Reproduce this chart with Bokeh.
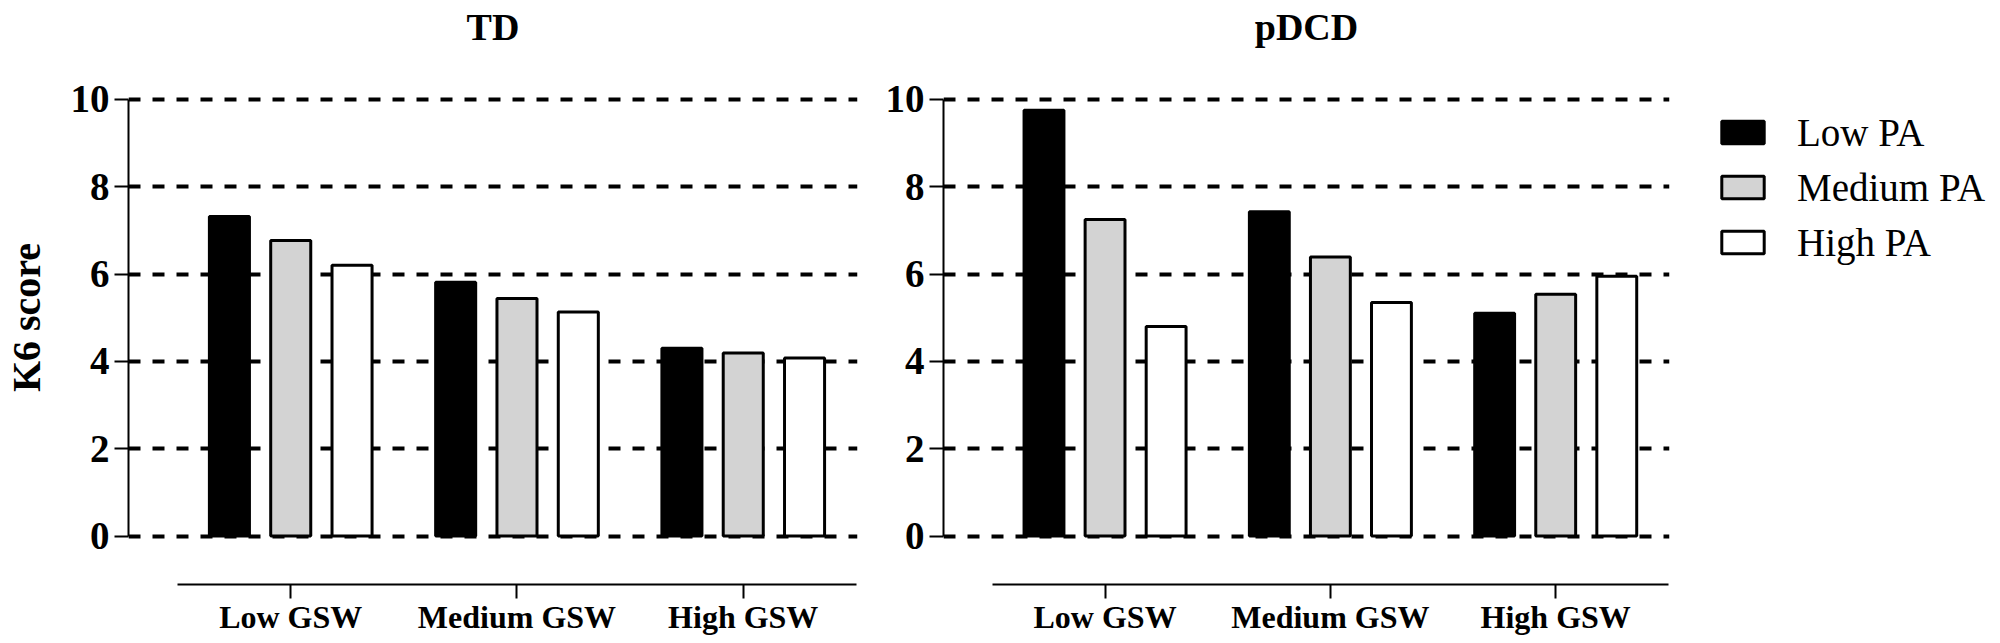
from bokeh.plotting import figure
from bokeh.models import FixedTicker, Legend, LegendItem, ColumnDataSource, Range1d
from bokeh.transform import dodge
from bokeh.layouts import row
from bokeh.embed import file_html
from bokeh.resources import INLINE

# ---- data ----
gsw_levels = ["Low GSW", "Medium GSW", "High GSW"]
pa_levels = ["Low PA", "Medium PA", "High PA"]
pa_colors = ["black", "#d3d3d3", "white"]

td_low_pa = [7.32, 5.81, 4.30]
td_medium_pa = [6.77, 5.44, 4.19]
td_high_pa = [6.20, 5.13, 4.08]

pdcd_low_pa = [9.75, 7.43, 5.10]
pdcd_medium_pa = [7.25, 6.39, 5.54]
pdcd_high_pa = [4.80, 5.35, 5.95]

y_ticks = [0, 2, 4, 6, 8, 10]

FONT = "Liberation Serif"
offsets = [-0.271, 0.0, 0.271]
BAR_W = 0.177
H = 637
X_RANGE = (-0.717, 2.505)
Y_RANGE = (-1.109, 11.12)


def draw_bars(p, series):
    src = ColumnDataSource(dict(x=list(range(len(gsw_levels))),
                                s0=series[0], s1=series[1], s2=series[2]))
    for i, (col, off) in enumerate(zip(pa_colors, offsets)):
        p.vbar(x=dodge("x", off), top="s%d" % i, bottom=0, width=BAR_W, source=src,
               fill_color=col, line_color="black", line_width=3)


def make_panel(title, series, ylabel, width, mbl, mbr):
    p = figure(width=width, height=H, title=title,
               x_range=Range1d(*X_RANGE), y_range=Range1d(*Y_RANGE),
               toolbar_location=None, output_backend="svg",
               min_border_left=mbl, min_border_right=mbr,
               min_border_top=50, min_border_bottom=10)
    p.outline_line_color = None
    p.background_fill_color = "white"
    p.border_fill_color = "white"

    draw_bars(p, series)

    p.title.align = "center"
    p.title.text_font = FONT
    p.title.text_font_size = "38px"
    p.title.text_font_style = "bold"
    p.title.text_color = "black"
    p.title.standoff = 6

    # y axis
    ya = p.yaxis[0]
    ya.ticker = FixedTicker(ticks=y_ticks)
    ya.bounds = (0, 10)
    ya.major_tick_out = 14
    ya.major_tick_in = 0
    ya.minor_tick_out = 0
    ya.minor_tick_in = 0
    ya.axis_line_width = 2
    ya.major_tick_line_width = 2
    ya.axis_line_color = "black"
    ya.major_tick_line_color = "black"
    ya.major_label_text_font = FONT
    ya.major_label_text_font_size = "39px"
    ya.major_label_text_font_style = "bold"
    ya.major_label_text_color = "black"
    ya.major_label_standoff = 5
    if ylabel:
        ya.axis_label = ylabel
        ya.axis_label_text_font = FONT
        ya.axis_label_text_font_size = "40px"
        ya.axis_label_text_font_style = "bold"
        ya.axis_label_text_color = "black"
        ya.axis_label_standoff = 19

    # x axis
    xa = p.xaxis[0]
    xa.ticker = FixedTicker(ticks=list(range(len(gsw_levels))))
    xa.major_label_overrides = {i: g for i, g in enumerate(gsw_levels)}
    xa.bounds = (-0.5, 2.5)
    xa.major_tick_out = 14
    xa.major_tick_in = 0
    xa.minor_tick_out = 0
    xa.minor_tick_in = 0
    xa.axis_line_width = 2
    xa.major_tick_line_width = 2
    xa.axis_line_color = "black"
    xa.major_tick_line_color = "black"
    xa.major_label_text_font = FONT
    xa.major_label_text_font_size = "32px"
    xa.major_label_text_font_style = "bold"
    xa.major_label_text_color = "black"
    xa.major_label_standoff = 0

    # grid
    p.xgrid.visible = False
    p.ygrid.ticker = FixedTicker(ticks=y_ticks)
    p.ygrid.grid_line_color = "black"
    p.ygrid.grid_line_width = 4
    p.ygrid.grid_line_dash = "12 12"
    return p


td_series = [td_low_pa, td_medium_pa, td_high_pa]
pdcd_series = [pdcd_low_pa, pdcd_medium_pa, pdcd_high_pa]

p1 = make_panel("TD", td_series, "K6 score", 864, 127, 7)
p2 = make_panel("pDCD", pdcd_series, None, 816, 79, 11)

# legend panel: legend-only proxy renderers (no visible marks of their own)
p3 = figure(width=318, height=H, x_range=Range1d(*X_RANGE), y_range=Range1d(*Y_RANGE),
            toolbar_location=None, output_backend="svg",
            min_border_left=0, min_border_right=0, min_border_top=50, min_border_bottom=52)
p3.xaxis.visible = False
p3.yaxis.visible = False
p3.grid.visible = False
p3.outline_line_color = None
proxy = ColumnDataSource(dict(x=[float("nan")], top=[float("nan")]))
items = []
for name, col in zip(pa_levels, pa_colors):
    r = p3.vbar(x="x", top="top", bottom=0, width=BAR_W, source=proxy,
                fill_color=col, line_color="black", line_width=3)
    items.append(LegendItem(label=name, renderers=[r]))
legend = Legend(items=items, location=(36, 319), margin=0, padding=0,
                border_line_color=None, background_fill_alpha=0,
                glyph_width=53, glyph_height=28, label_height=46, label_standoff=28,
                spacing=9,
                label_text_font=FONT, label_text_font_size="39px", label_text_color="black")
p3.add_layout(legend)

layout = row(p1, p2, p3)
open("out.html", "w").write(file_html(layout, INLINE))
